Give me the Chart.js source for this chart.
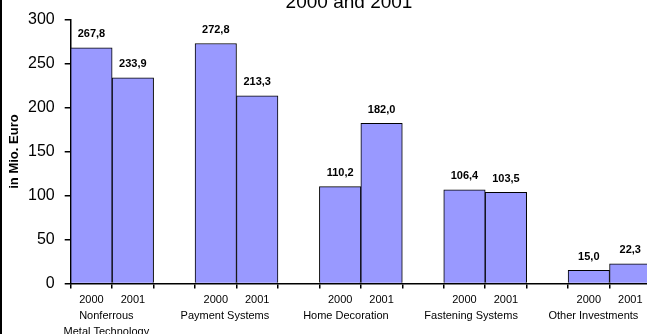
<!DOCTYPE html>
<html lang="en">
<head>
<meta charset="UTF-8">
<title>Sales by division 2000 and 2001</title>
<script src="https://cdn.jsdelivr.net/npm/chart.js"></script>
<style>
    html, body {
        margin: 0;
        padding: 0;
        overflow: hidden;
        background: #fff;
    }
    .frame {
        position: absolute;
        left: 0;
        top: 0;
        width: 649px;
        height: 341px;
        border-left: 2px solid #000;
    }
</style>
</head>
<body>
<div class="frame"><canvas id="salesChart"></canvas></div>

<script>
    const titleText = '2000 and 2001';
    const axisTitle = 'in Mio. Euro';
    const groupNames = [['Nonferrous', 'Metal Technology'], 'Payment Systems', 'Home Decoration', 'Fastening Systems', 'Other Investments'];
    // where the division names sit on the bar-slot scale (0 = left end of the axis)
    const groupLabelAt = [0.86, 3.72, 6.64, 9.66, 12.61];
    const years = ['2000', '2001'];
    const values2000 = [267.8, 272.8, 110.2, 106.4, 15.0];
    const values2001 = [233.9, 213.3, 182.0, 103.5, 22.3];
    const yTicks = [0, 50, 100, 150, 200, 250, 300];

    const FONT = '"Liberation Sans", Arial, sans-serif';

    // one slot per bar, plus an empty slot between the divisions
    const slotLabels = [];
    const slotValues = [];
    groupNames.forEach((name, i) => {
        if (i > 0) {
            slotLabels.push('');
            slotValues.push(null);
        }
        slotLabels.push(years[0], years[1]);
        slotValues.push(values2000[i], values2001[i]);
    });

    // numbers above the bars, german decimal comma
    const valueLabels = {
        id: 'valueLabels',
        afterDatasetsDraw(chart) {
            const ctx = chart.ctx;
            ctx.save();
            ctx.font = 'bold 11px ' + FONT;
            ctx.fillStyle = '#000';
            ctx.textAlign = 'center';
            ctx.textBaseline = 'middle';
            chart.getDatasetMeta(0).data.forEach((bar, i) => {
                const v = slotValues[i];
                if (v == null) return;
                ctx.fillText(v.toFixed(1).replace('.', ','), bar.x, bar.y - 13.5);
            });
            ctx.restore();
        }
    };

    // title line, top of it is cut off like in the original
    const topTitle = {
        id: 'topTitle',
        afterDraw(chart) {
            const ctx = chart.ctx;
            ctx.save();
            ctx.font = '19px ' + FONT;
            ctx.fillStyle = '#000';
            ctx.textAlign = 'center';
            ctx.textBaseline = 'alphabetic';
            ctx.fillText(titleText, 347, 8);
            ctx.restore();
        }
    };

    new Chart(document.getElementById('salesChart'), {
        type: 'bar',
        data: {
            labels: slotLabels,
            datasets: [{
                data: slotValues,
                backgroundColor: '#9999FF',
                borderColor: '#000',
                borderWidth: 1,
                barPercentage: 1,
                categoryPercentage: 1
            }]
        },
        options: {
            responsive: true,
            maintainAspectRatio: false,
            animation: false,
            layout: { padding: { left: 1, top: 18, right: 0, bottom: 0 } },
            plugins: {
                legend: { display: false },
                tooltip: { enabled: false }
            },
            scales: {
                x: {
                    type: 'category',
                    offset: true,
                    grid: { offset: true, drawOnChartArea: false, tickLength: 5, color: '#000', lineWidth: 1.5 },
                    border: { color: '#000', width: 1.5 },
                    afterFit: s => { s.height = 22; },
                    ticks: { autoSkip: false, maxRotation: 0, padding: 5, color: '#000', font: { family: FONT, size: 11 } }
                },
                groups: {
                    type: 'linear',
                    position: 'bottom',
                    min: 0,
                    max: slotLabels.length,
                    offset: false,
                    grid: { display: false, drawTicks: false, offset: false },
                    border: { display: false },
                    afterBuildTicks: s => { s.ticks = groupLabelAt.map(v => ({ value: v })); },
                    afterFit: s => { s.paddingLeft = 0; s.paddingRight = 0; s.height = 35.5; },
                    ticks: {
                        autoSkip: false,
                        maxRotation: 0,
                        padding: 2,
                        color: '#000',
                        font: { family: FONT, size: 11, lineHeight: 1.5 },
                        callback: v => groupNames[groupLabelAt.indexOf(v)]
                    }
                },
                y: {
                    min: 0,
                    max: 300,
                    afterBuildTicks: s => { s.ticks = yTicks.map(v => ({ value: v })); },
                    afterFit: s => { s.width = 67.7; },
                    grid: { drawOnChartArea: false, tickLength: 6, color: '#000', lineWidth: 1.5 },
                    border: { color: '#000', width: 1.5 },
                    ticks: { padding: 10, color: '#000', font: { family: FONT, size: 16 } },
                    title: {
                        display: true,
                        text: axisTitle,
                        color: '#000',
                        font: { family: FONT, size: 13, weight: 'bold' },
                        padding: { top: 4, bottom: 5 }
                    }
                }
            }
        },
        plugins: [valueLabels, topTitle]
    });
</script>
</body>
</html>
